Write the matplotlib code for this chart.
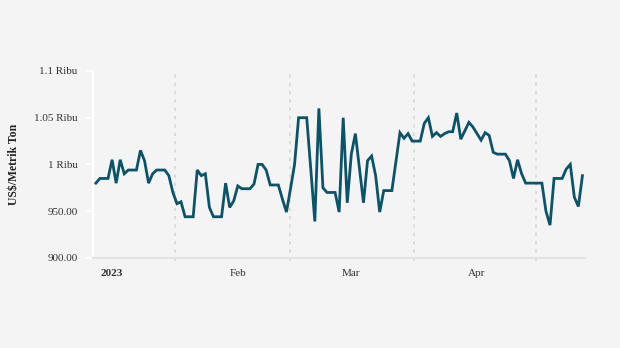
import pandas as pd
import matplotlib
matplotlib.use("Agg")
import matplotlib.pyplot as plt

# Daily price, US$/metric ton, 28 Dec 2022 - 27 Apr 2023
start_date = "2022-12-28"
prices = [
    980, 985, 985, 985, 1005, 980, 1005, 990, 994, 994,
    994, 1015, 1004, 980, 990, 994, 994, 994, 988, 970,
    958, 960, 944, 944, 944, 994, 988, 990, 954, 944,
    944, 944, 980, 954, 961, 977, 974, 974, 974, 979,
    1000, 1000, 994, 978, 978, 978, 963, 949, 974, 1000,
    1050, 1050, 1050, 995, 939, 1060, 975, 970, 970, 970,
    949, 1050, 959, 1011, 1033, 996, 959, 1004, 1009, 988,
    949, 972, 972, 972, 1003, 1034, 1028, 1033, 1025, 1025,
    1025, 1044, 1050, 1030, 1034, 1030, 1033, 1035, 1035, 1055,
    1027, 1036, 1045, 1040, 1033, 1026, 1034, 1031, 1013, 1011,
    1011, 1011, 1004, 985, 1005, 990, 980, 980, 980, 980,
    980, 950, 935, 985, 985, 985, 995, 1000, 965, 955,
    988,
]

y_ticks = [900, 950, 1000, 1050, 1100]
y_tick_labels = ["900.00", "950.00", "1 Ribu", "1.05 Ribu", "1.1 Ribu"]
x_tick_dates = ["2023-01-01", "2023-02-01", "2023-03-01", "2023-04-01"]
x_tick_labels = ["2023", "Feb", "Mar", "Apr"]
grid_dates = ["2023-01-16 12:00", "2023-02-14 00:00", "2023-03-16 12:00", "2023-04-15 12:00"]

dates = pd.date_range(start_date, periods=len(prices), freq="D")

BG = "#f4f4f4"
LINE = "#0a5369"

plt.rcParams["font.family"] = ["Liberation Serif", "DejaVu Serif"]

fig = plt.figure(figsize=(6.2, 3.48), dpi=100, facecolor=BG)
ax = fig.add_axes([0.150, 0.259, 0.7935, 0.537])
ax.set_facecolor(BG)

# dotted mid-month guides
for d in pd.to_datetime(grid_dates, format="%Y-%m-%d %H:%M"):
    ax.vlines(d, 897, 1100, colors="#d6d6d6", linestyles=(0, (2, 3)),
              linewidth=1.2, clip_on=False, zorder=1)

ax.plot(dates, prices, color=LINE, linewidth=2.0, solid_joinstyle="miter", zorder=3)

ax.set_ylim(900, 1100)
ax.set_xlim(pd.Timestamp("2022-12-27 07:00"), pd.Timestamp("2023-04-27 15:00"))

ax.set_yticks(y_ticks)
ax.set_yticklabels(y_tick_labels, fontsize=8, color="#333333")
ax.set_xticks(pd.to_datetime(x_tick_dates))
ax.set_xticklabels(x_tick_labels, fontsize=8, color="#333333")
ax.get_xticklabels()[0].set_fontweight("bold")

ax.tick_params(axis="y", length=5, width=1.2, color="white", pad=6)
ax.tick_params(axis="x", length=0, pad=8)

for side in ("top", "right"):
    ax.spines[side].set_visible(False)
ax.spines["left"].set_color("white")
ax.spines["left"].set_linewidth(1.5)
ax.spines["bottom"].set_color("#e2e2e2")
ax.spines["bottom"].set_linewidth(1.5)

ax.set_ylabel("US$/Metrik Ton", fontsize=8.5, fontweight="bold", color="#222222", labelpad=10)

fig.savefig("out.png", dpi=100, facecolor=BG)
